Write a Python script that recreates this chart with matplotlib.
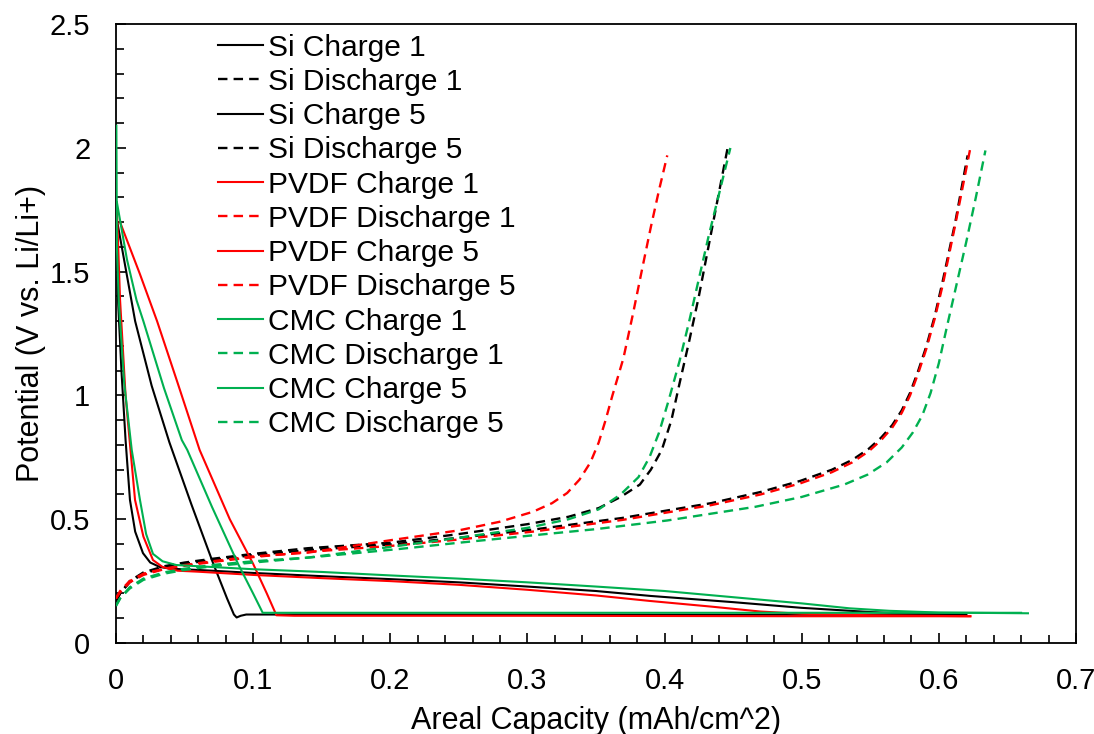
import matplotlib
matplotlib.use("Agg")
import matplotlib.pyplot as plt
from matplotlib.ticker import MultipleLocator

plt.rcParams['font.family'] = ['Liberation Sans', 'DejaVu Sans']

# --- charge curves, cycle 1 (steep drop then sloping plateau) ---
si_c1_x = [0, 0.0008, 0.0015, 0.004, 0.007, 0.0102, 0.014, 0.0197, 0.025, 0.032, 0.04, 0.06, 0.1, 0.15,
           0.2, 0.25, 0.3, 0.35, 0.39, 0.45, 0.5, 0.55, 0.58, 0.62]
si_c1_y = [1.80, 1.60, 1.385, 1.10, 0.82, 0.578, 0.45, 0.363, 0.325, 0.307, 0.300, 0.295, 0.283, 0.27,
           0.258, 0.245, 0.228, 0.21, 0.19, 0.165, 0.142, 0.125, 0.118, 0.115]
pvdf_c1_x = [0.0005, 0.003, 0.007, 0.0139, 0.02, 0.027, 0.034, 0.045, 0.06, 0.1, 0.15, 0.2, 0.25, 0.3,
             0.35, 0.389, 0.434, 0.47, 0.5, 0.55, 0.623]
pvdf_c1_y = [1.78, 1.385, 1.0, 0.578, 0.43, 0.335, 0.307, 0.292, 0.288, 0.275, 0.262, 0.25, 0.235, 0.215,
             0.192, 0.17, 0.147, 0.127, 0.118, 0.112, 0.108]
cmc_c1_x = [0.0003, 0.0007, 0.002, 0.006, 0.0115, 0.0175, 0.022, 0.027, 0.034, 0.044, 0.06, 0.1, 0.15, 0.2,
            0.25, 0.3, 0.35, 0.4, 0.45, 0.5, 0.535, 0.564, 0.6, 0.665]
cmc_c1_y = [2.09, 1.6, 1.385, 1.05, 0.78, 0.578, 0.44, 0.36, 0.33, 0.315, 0.31, 0.298, 0.287, 0.273,
            0.26, 0.245, 0.228, 0.21, 0.185, 0.16, 0.14, 0.13, 0.123, 0.12]

# --- charge curves, cycle 5 (near-linear drop then flat) ---
si_c5_x = [0.001, 0.014, 0.026, 0.039, 0.055, 0.071, 0.081, 0.086, 0.088, 0.091, 0.095, 0.2, 0.4, 0.62]
si_c5_y = [1.70, 1.30, 1.04, 0.81, 0.56, 0.32, 0.18, 0.115, 0.103, 0.11, 0.115, 0.115, 0.114, 0.114]
pvdf_c5_x = [0.003, 0.0175, 0.030, 0.045, 0.061, 0.083, 0.1, 0.11, 0.117, 0.13, 0.3, 0.5, 0.623]
pvdf_c5_y = [1.70, 1.49, 1.30, 1.05, 0.78, 0.50, 0.32, 0.2, 0.112, 0.11, 0.11, 0.108, 0.108]
cmc_c5_x = [0.0007, 0.008, 0.015, 0.02, 0.035, 0.048, 0.052, 0.07, 0.089, 0.1, 0.107, 0.15, 0.4, 0.66]
cmc_c5_y = [1.78, 1.55, 1.385, 1.30, 1.03, 0.82, 0.78, 0.55, 0.32, 0.2, 0.122, 0.122, 0.122, 0.122]

# --- discharge curves, cycle 1 (long) ---
si_d1_x = [0, 0.003, 0.01, 0.02, 0.035, 0.05, 0.07, 0.1, 0.14, 0.2, 0.25, 0.304, 0.369, 0.434, 0.47,
           0.499, 0.522, 0.537, 0.549, 0.558, 0.566, 0.573, 0.579, 0.585, 0.591, 0.597, 0.603, 0.612, 0.621]
si_d1_y = [0.17, 0.2, 0.245, 0.28, 0.305, 0.32, 0.335, 0.355, 0.375, 0.398, 0.425, 0.458, 0.505, 0.565,
           0.61, 0.655, 0.70, 0.74, 0.785, 0.83, 0.88, 0.94, 1.01, 1.1, 1.2, 1.32, 1.466, 1.7, 1.97]
pvdf_d1_x = [0, 0.003, 0.01, 0.02, 0.035, 0.05, 0.07, 0.1, 0.14, 0.2, 0.25, 0.304, 0.369, 0.434, 0.47,
             0.499, 0.522, 0.537, 0.549, 0.558, 0.566, 0.573, 0.579, 0.585, 0.591, 0.597, 0.603, 0.612, 0.623]
pvdf_d1_y = [0.18, 0.205, 0.245, 0.275, 0.298, 0.312, 0.327, 0.347, 0.368, 0.392, 0.418, 0.45, 0.497,
             0.557, 0.6, 0.645, 0.69, 0.73, 0.775, 0.82, 0.87, 0.93, 1.0, 1.09, 1.19, 1.31, 1.45, 1.69, 2.0]
cmc_d1_x = [0, 0.003, 0.01, 0.02, 0.035, 0.05, 0.07, 0.1, 0.15, 0.207, 0.25, 0.304, 0.35, 0.402, 0.466,
            0.5, 0.531, 0.548, 0.562, 0.573, 0.581, 0.588, 0.594, 0.6, 0.606, 0.613, 0.62, 0.627, 0.634]
cmc_d1_y = [0.15, 0.18, 0.22, 0.255, 0.28, 0.295, 0.31, 0.325, 0.35, 0.38, 0.405, 0.435, 0.46, 0.495,
            0.55, 0.59, 0.64, 0.68, 0.73, 0.79, 0.85, 0.92, 1.01, 1.13, 1.28, 1.45, 1.62, 1.8, 1.99]

# --- discharge curves, cycle 5 (short) ---
si_d5_x = [0, 0.003, 0.01, 0.02, 0.035, 0.05, 0.07, 0.1, 0.14, 0.2, 0.25, 0.3, 0.33, 0.352, 0.368,
           0.382, 0.39, 0.398, 0.405, 0.411, 0.418, 0.425, 0.432, 0.439, 0.446]
si_d5_y = [0.17, 0.2, 0.25, 0.285, 0.31, 0.325, 0.34, 0.36, 0.383, 0.405, 0.44, 0.48, 0.51, 0.545, 0.59,
           0.64, 0.70, 0.78, 0.9, 1.05, 1.22, 1.4, 1.6, 1.8, 2.0]
pvdf_d5_x = [0, 0.003, 0.01, 0.02, 0.035, 0.05, 0.07, 0.1, 0.14, 0.2, 0.25, 0.28, 0.304, 0.318, 0.329,
             0.338, 0.346, 0.352, 0.357, 0.362, 0.37, 0.377, 0.384, 0.39, 0.396, 0.402]
pvdf_d5_y = [0.18, 0.21, 0.25, 0.28, 0.30, 0.315, 0.33, 0.35, 0.365, 0.415, 0.455, 0.49, 0.53, 0.565,
             0.606, 0.66, 0.73, 0.81, 0.9, 1.0, 1.15, 1.33, 1.52, 1.68, 1.83, 1.97]
cmc_d5_x = [0, 0.003, 0.01, 0.02, 0.035, 0.05, 0.07, 0.1, 0.14, 0.2, 0.25, 0.3, 0.33, 0.352, 0.368,
            0.381, 0.389, 0.396, 0.403, 0.411, 0.418, 0.425, 0.432, 0.44, 0.448]
cmc_d5_y = [0.15, 0.18, 0.225, 0.26, 0.285, 0.3, 0.315, 0.33, 0.345, 0.388, 0.425, 0.465, 0.5, 0.54, 0.6,
            0.67, 0.75, 0.85, 0.98, 1.14, 1.30, 1.47, 1.64, 1.82, 2.0]

BLACK = '#000000'
RED = '#FF0000'
GREEN = '#00B050'

series = [
    ('Si Charge 1', si_c1_x, si_c1_y, BLACK, '-'),
    ('Si Discharge 1', si_d1_x, si_d1_y, BLACK, '--'),
    ('Si Charge 5', si_c5_x, si_c5_y, BLACK, '-'),
    ('Si Discharge 5', si_d5_x, si_d5_y, BLACK, '--'),
    ('PVDF Charge 1', pvdf_c1_x, pvdf_c1_y, RED, '-'),
    ('PVDF Discharge 1', pvdf_d1_x, pvdf_d1_y, RED, '--'),
    ('PVDF Charge 5', pvdf_c5_x, pvdf_c5_y, RED, '-'),
    ('PVDF Discharge 5', pvdf_d5_x, pvdf_d5_y, RED, '--'),
    ('CMC Charge 1', cmc_c1_x, cmc_c1_y, GREEN, '-'),
    ('CMC Discharge 1', cmc_d1_x, cmc_d1_y, GREEN, '--'),
    ('CMC Charge 5', cmc_c5_x, cmc_c5_y, GREEN, '-'),
    ('CMC Discharge 5', cmc_d5_x, cmc_d5_y, GREEN, '--'),
]

fig = plt.figure(figsize=(10.94, 7.34), dpi=100)
ax = fig.add_axes([0.106, 0.124, 0.8775, 0.843])

# lines sit above the spines so the near-zero segments stay visible
for label, xs, ys, color, ls in series:
    if ls == '--':
        ax.plot(xs, ys, color=color, lw=1.7, dashes=(4, 2.6), label=label, zorder=3)
    else:
        ax.plot(xs, ys, color=color, lw=1.5, label=label, zorder=3)

ax.set_xlim(0, 0.7)
ax.set_ylim(0, 2.5)
ax.xaxis.set_major_locator(MultipleLocator(0.1))
ax.xaxis.set_minor_locator(MultipleLocator(0.02))
ax.yaxis.set_major_locator(MultipleLocator(0.5))
ax.yaxis.set_minor_locator(MultipleLocator(0.1))
ax.xaxis.set_major_formatter(plt.FuncFormatter(lambda v, p: f'{v:g}'))
ax.yaxis.set_major_formatter(plt.FuncFormatter(lambda v, p: f'{v:g}'))

ax.tick_params(which='both', direction='in', top=False, right=False, width=1.2, labelsize=21)
ax.tick_params(axis='x', pad=17)
ax.tick_params(axis='y', pad=18.5)
ax.tick_params(which='major', length=7)
ax.tick_params(which='minor', length=6)
for sp in ax.spines.values():
    sp.set_linewidth(1.3)

ax.set_xlabel('Areal Capacity (mAh/cm^2)', fontsize=22, labelpad=8)
ax.set_ylabel('Potential (V vs. Li/Li+)', fontsize=22, labelpad=3)

ax.legend(loc='upper left', bbox_to_anchor=(0.106, 0.985), frameon=False, fontsize=21.5,
          handlelength=1.5, handletextpad=0.2, labelspacing=0.21, borderpad=0, borderaxespad=0)

fig.savefig('out.png', dpi=100)
